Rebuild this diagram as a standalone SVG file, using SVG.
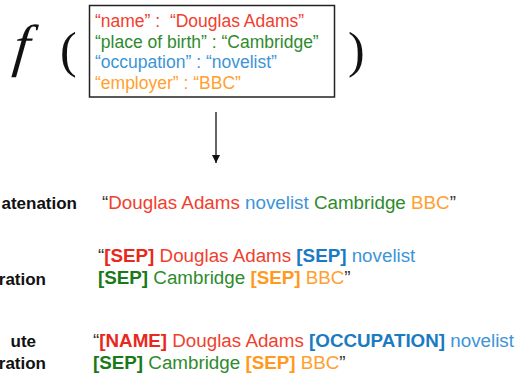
<svg xmlns="http://www.w3.org/2000/svg" width="525" height="376" viewBox="0 0 525 376">
<defs>
<style>
.t{font-family:"Liberation Sans",Arial,sans-serif;font-size:18.8px}
.k{font-family:"Liberation Sans",Arial,sans-serif;font-size:17.5px}
.lab{font-family:"Liberation Sans",Arial,sans-serif;font-size:17px;font-weight:bold;fill:#111}
.b{font-weight:bold}
.r{fill:#f0402e}.rb{fill:#e8281c}
.g{fill:#2e8b2e}.gb{fill:#1a7a1a}
.u{fill:#3d94d6}.ub{fill:#1a7ac2}
.o{fill:#ffa030}.ob{fill:#ff9a1f}
.q{fill:#333}
.math{font-family:"Liberation Serif","Times New Roman",serif;font-size:50px;fill:#111}
.fi{font-family:"Liberation Serif","Times New Roman",serif;font-size:58px;font-style:italic;fill:#111}
</style>
<marker id="ah" viewBox="0 0 8 8" refX="8" refY="4" markerWidth="8" markerHeight="8" markerUnits="userSpaceOnUse" orient="auto">
<path d="M0,0 L8,4 L0,8 z" fill="#111"/>
</marker>
</defs>

<g id="func">
<text class="fi" x="0" y="0" transform="translate(12,65) skewX(-6)">f</text>
<text class="math" x="60" y="67">(</text>
<text class="math" x="348" y="67">)</text>
</g>

<g id="record">
<rect x="89.5" y="5.5" width="245" height="91.5" fill="#fff" stroke="#222" stroke-width="1.5"/>
<text class="k r" x="95" y="27">“name” : &#160;“Douglas Adams”</text>
<text class="k g" x="95" y="47.5">“place of birth” : “Cambridge”</text>
<text class="k u" x="95" y="68">“occupation” : “novelist”</text>
<text class="k o" x="95" y="88.5">“employer” : “BBC”</text>
</g>

<g id="connectors">
<line x1="216" y1="112" x2="216" y2="163" stroke="#111" stroke-width="1.3" marker-end="url(#ah)"/>
</g>

<g id="concatenation">
<text class="lab" x="77" y="208.5" text-anchor="end">atenation</text>
<text class="t" x="102" y="209"><tspan class="q">“</tspan><tspan class="r">Douglas Adams</tspan> <tspan class="u">novelist</tspan> <tspan class="g">Cambridge</tspan> <tspan class="o">BBC</tspan><tspan class="q">”</tspan></text>
</g>

<g id="separation">
<text class="lab" x="46" y="284.5" text-anchor="end">ration</text>
<text class="t" x="98" y="262"><tspan class="q">“</tspan><tspan class="rb b">[SEP]</tspan><tspan class="r"> Douglas Adams </tspan><tspan class="ub b">[SEP]</tspan><tspan class="u"> novelist</tspan></text>
<text class="t" x="98" y="284"><tspan class="gb b">[SEP]</tspan><tspan class="g"> Cambridge </tspan><tspan class="ob b">[SEP]</tspan><tspan class="o"> BBC</tspan><tspan class="q">”</tspan></text>
</g>

<g id="attribute-separation">
<text class="lab" x="36" y="346.5" text-anchor="end">ute</text>
<text class="lab" x="46" y="368.5" text-anchor="end">ration</text>
<text class="t" x="93" y="347"><tspan class="q">“</tspan><tspan class="rb b">[NAME]</tspan><tspan class="r"> Douglas Adams </tspan><tspan class="ub b">[OCCUPATION]</tspan><tspan class="u"> novelist</tspan></text>
<text class="t" x="93" y="369"><tspan class="gb b">[SEP]</tspan><tspan class="g"> Cambridge </tspan><tspan class="ob b">[SEP]</tspan><tspan class="o"> BBC</tspan><tspan class="q">”</tspan></text>
</g>
</svg>
